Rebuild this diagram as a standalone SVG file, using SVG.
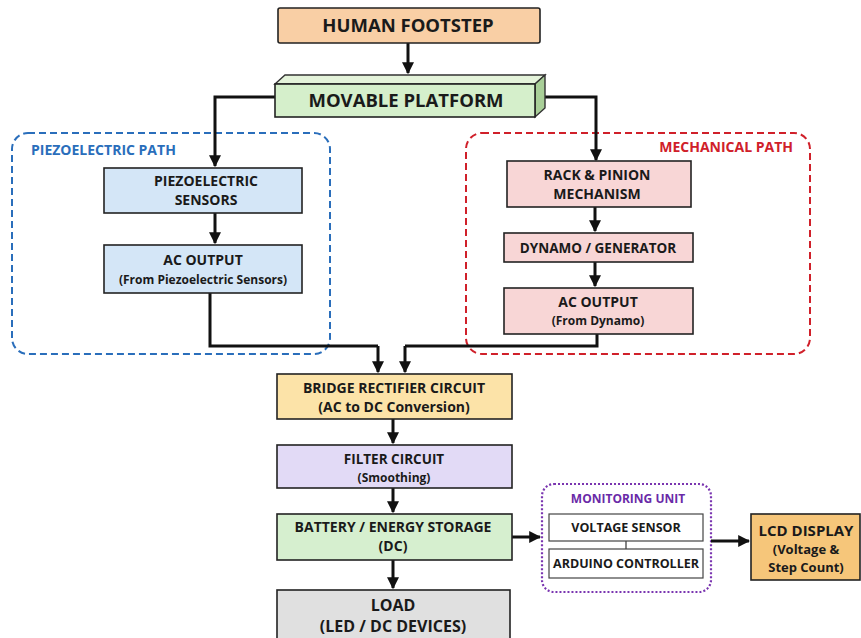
<svg xmlns="http://www.w3.org/2000/svg" width="861" height="638" viewBox="0 0 861 638">
<defs>
<marker id="ah" viewBox="0 0 10 10" refX="9" refY="5" markerWidth="4" markerHeight="4" orient="auto-start-reverse" markerUnits="strokeWidth">
<path d="M0,0 L10,5 L0,10 z" fill="#111"/>
</marker>
<style>
.box{stroke:#222;stroke-width:1.6}
.t{font-family:"Open Sans","Noto Sans","Liberation Sans",sans-serif;font-weight:700;fill:#1a1a1a;text-anchor:middle}
.m{font-size:14px}
.s{font-size:12px}
.c{fill:none;stroke:#111;stroke-width:3}
.ca{fill:none;stroke:#111;stroke-width:3;marker-end:url(#ah)}
</style>
</defs>
<rect width="861" height="638" fill="#fff"/>

<g id="piezo-group">
<rect x="12" y="133" width="318" height="221" rx="16" fill="none" stroke="#2a6ebb" stroke-width="2" stroke-dasharray="7,4"/>
<text x="31" y="155" class="t" style="text-anchor:start;font-size:14px;fill:#2a6ebb">PIEZOELECTRIC PATH</text>
</g>
<g id="mech-group">
<rect x="466" y="133" width="344" height="221" rx="16" fill="none" stroke="#d0202a" stroke-width="2" stroke-dasharray="7,4"/>
<text x="793" y="152" class="t" style="text-anchor:end;font-size:14px;fill:#d0202a">MECHANICAL PATH</text>
</g>
<g id="monitor-group">
<rect x="542" y="484" width="169" height="108" rx="12" fill="none" stroke="#7a35b0" stroke-width="2.2" stroke-dasharray="2,2"/>
<text x="628" y="503" class="t" style="font-size:12px;fill:#6a2aa8">MONITORING UNIT</text>
</g>

<g id="connectors">
<path class="ca" d="M408,43 V73"/>
<path class="ca" d="M275,97 H215 V166"/>
<path class="ca" d="M545,97 H596 V160"/>
<path class="ca" d="M215,213 V243"/>
<path class="c" d="M210,293 V346 H378"/>
<path class="ca" d="M378,346 V372"/>
<path class="ca" d="M595,207 V231"/>
<path class="ca" d="M595,262 V286"/>
<path class="c" d="M597,334 V346 H405"/>
<path class="ca" d="M405,346 V372"/>
<path class="ca" d="M393,419 V443"/>
<path class="ca" d="M393,488 V512"/>
<path class="ca" d="M393,560 V588"/>
<path class="ca" d="M512,537 H540"/>
<path d="M626,541 V549" stroke="#333" stroke-width="1.2"/>
<path class="ca" d="M711,541 H749"/>
</g>

<g id="human-footstep">
<rect x="278" y="8" width="262" height="35" rx="2" fill="#f9cfa5" class="box"/>
<text x="408" y="32" class="t" style="font-size:18.5px">HUMAN FOOTSTEP</text>
</g>

<g id="movable-platform">
<polygon points="275,84 285,75 545,75 535,84" fill="#e4f3da" stroke="#333" stroke-width="1.4"/>
<polygon points="535,84 545,75 545,108 535,117" fill="#a9cf98" stroke="#333" stroke-width="1.4"/>
<rect x="275" y="84" width="260" height="33" fill="#d5efcb" class="box"/>
<text x="406" y="107" class="t" style="font-size:18.5px">MOVABLE PLATFORM</text>
</g>

<g id="piezo-sensors">
<rect x="104" y="168" width="198" height="45" fill="#d4e6f7" class="box"/>
<text x="206" y="186" class="t m">PIEZOELECTRIC</text>
<text x="206" y="205" class="t m">SENSORS</text>
</g>
<g id="piezo-ac">
<rect x="104" y="245" width="198" height="48" fill="#d4e6f7" class="box"/>
<text x="203" y="265" class="t m">AC OUTPUT</text>
<text x="203" y="284" class="t s">(From Piezoelectric Sensors)</text>
</g>

<g id="rack-pinion">
<rect x="507" y="161" width="184" height="46" fill="#f8d6d6" class="box"/>
<text x="597" y="180" class="t m">RACK &amp; PINION</text>
<text x="597" y="199" class="t m">MECHANISM</text>
</g>
<g id="dynamo">
<rect x="504" y="233" width="189" height="29" fill="#f8d6d6" class="box"/>
<text x="598" y="253" class="t" style="font-size:13.5px">DYNAMO / GENERATOR</text>
</g>
<g id="dynamo-ac">
<rect x="504" y="288" width="189" height="46" fill="#f8d6d6" class="box"/>
<text x="598" y="307" class="t m">AC OUTPUT</text>
<text x="598" y="325" class="t s">(From Dynamo)</text>
</g>

<g id="rectifier">
<rect x="277" y="374" width="235" height="45" fill="#fce3a8" class="box"/>
<text x="394" y="393" class="t m">BRIDGE RECTIFIER CIRCUIT</text>
<text x="394" y="412" class="t m">(AC to DC Conversion)</text>
</g>
<g id="filter">
<rect x="277" y="445" width="235" height="43" fill="#e2daf6" class="box"/>
<text x="394" y="464" class="t" style="font-size:13.5px">FILTER CIRCUIT</text>
<text x="394" y="482" class="t s">(Smoothing)</text>
</g>
<g id="battery">
<rect x="277" y="514" width="235" height="46" fill="#d6efcf" class="box"/>
<text x="393" y="532" class="t m">BATTERY / ENERGY STORAGE</text>
<text x="393" y="551" class="t m">(DC)</text>
</g>
<g id="load">
<rect x="277" y="590" width="233" height="52" fill="#e0e0e0" class="box"/>
<text x="393" y="611" class="t" style="font-size:16px">LOAD</text>
<text x="393" y="632" class="t" style="font-size:16px">(LED / DC DEVICES)</text>
</g>

<g id="voltage-sensor">
<rect x="549" y="514" width="154" height="27" fill="#fff" stroke="#444" stroke-width="1.2"/>
<text x="626" y="532" class="t" style="font-size:12.5px">VOLTAGE SENSOR</text>
</g>
<g id="arduino">
<rect x="549" y="549" width="154" height="29" fill="#fff" stroke="#444" stroke-width="1.2"/>
<text x="626" y="568" class="t" style="font-size:12.5px">ARDUINO CONTROLLER</text>
</g>
<g id="lcd">
<rect x="751" y="514" width="109" height="66" fill="#f6c67a" class="box"/>
<text x="806" y="536" class="t" style="font-size:15px">LCD DISPLAY</text>
<text x="806" y="554" class="t" style="font-size:13px">(Voltage &amp;</text>
<text x="806" y="572" class="t" style="font-size:13px">Step Count)</text>
</g>
</svg>
